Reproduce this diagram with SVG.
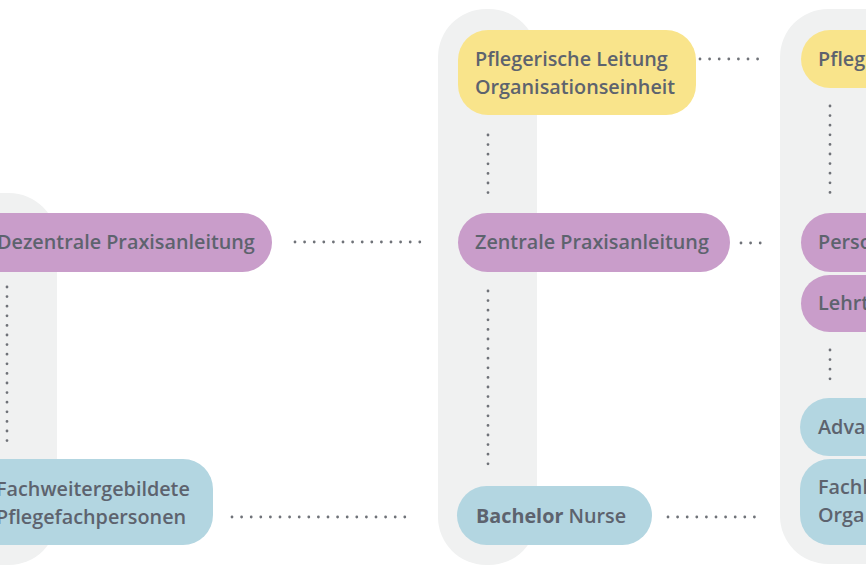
<svg xmlns="http://www.w3.org/2000/svg" width="866" height="586" viewBox="0 0 866 586">
<style>
.col{fill:#f0f1f1}
.y{fill:#f9e48b}
.p{fill:#c99dca}
.b{fill:#b3d6e1}
text{font-family:"Open Sans",Lato,sans-serif;font-size:19.8px;font-weight:600;fill:#5d636e}
.dot{fill:none;stroke:#6f7278;stroke-width:2.8;stroke-linecap:round;stroke-dasharray:0 9.6}
</style>
<rect width="866" height="586" fill="#ffffff"/>
<g id="columns">
<rect class="col" x="-60" y="193" width="117" height="372" rx="48"/>
<rect class="col" x="438" y="9" width="99" height="556" rx="48"/>
<rect class="col" x="780" y="9" width="140" height="555" rx="48"/>
</g>
<g id="connectors">
<line class="dot" x1="7" y1="287" x2="7" y2="445"/>
<line class="dot" x1="295" y1="242" x2="420" y2="242"/>
<line class="dot" x1="232" y1="517" x2="413" y2="517"/>
<line class="dot" x1="488" y1="135" x2="488" y2="200"/>
<line class="dot" x1="488" y1="291" x2="488" y2="470"/>
<line class="dot" x1="700" y1="59" x2="762" y2="59"/>
<line class="dot" x1="741" y1="243" x2="763" y2="243"/>
<line class="dot" x1="668" y1="517" x2="763" y2="517"/>
<line class="dot" x1="830" y1="106" x2="830" y2="200"/>
<line class="dot" x1="830" y1="350" x2="830" y2="382"/>
</g>
<g id="dezentrale">
<rect class="p" x="-60" y="213" width="332" height="59" rx="29.5"/>
<text x="-3" y="249">Dezentrale Praxisanleitung</text>
</g>
<g id="fachweitergebildete">
<rect class="b" x="-60" y="459" width="273" height="86" rx="30"/>
<text x="-4" y="496">Fachweitergebildete</text>
<text x="-4" y="524">Pflegefachpersonen</text>
</g>
<g id="pflegerische-leitung">
<rect class="y" x="458" y="30" width="238" height="85" rx="30"/>
<text x="475" y="66">Pflegerische Leitung</text>
<text x="475" y="94">Organisationseinheit</text>
</g>
<g id="zentrale">
<rect class="p" x="458" y="213" width="272" height="59" rx="29.5"/>
<text x="475" y="249">Zentrale Praxisanleitung</text>
</g>
<g id="bachelor">
<rect class="b" x="457" y="486" width="195" height="59" rx="29.5"/>
<text x="476" y="523"><tspan font-weight="700">Bachelor</tspan> Nurse</text>
</g>
<g id="r-pfleg">
<rect class="y" x="801" y="30" width="120" height="58" rx="29"/>
<text x="818" y="66">Pfleg</text>
</g>
<g id="r-perso">
<rect class="p" x="801" y="213" width="120" height="59" rx="29.5"/>
<text x="818" y="249">Perso</text>
</g>
<g id="r-lehrt">
<rect class="p" x="801" y="275" width="120" height="57" rx="28.5"/>
<text x="818" y="310">Lehrt</text>
</g>
<g id="r-adva">
<rect class="b" x="800" y="398" width="120" height="58" rx="29"/>
<text x="818" y="434">Adva</text>
</g>
<g id="r-fachl">
<rect class="b" x="800" y="459" width="120" height="86" rx="30"/>
<text x="818" y="494">Fachl</text>
<text x="818" y="522">Orga</text>
</g>
</svg>
